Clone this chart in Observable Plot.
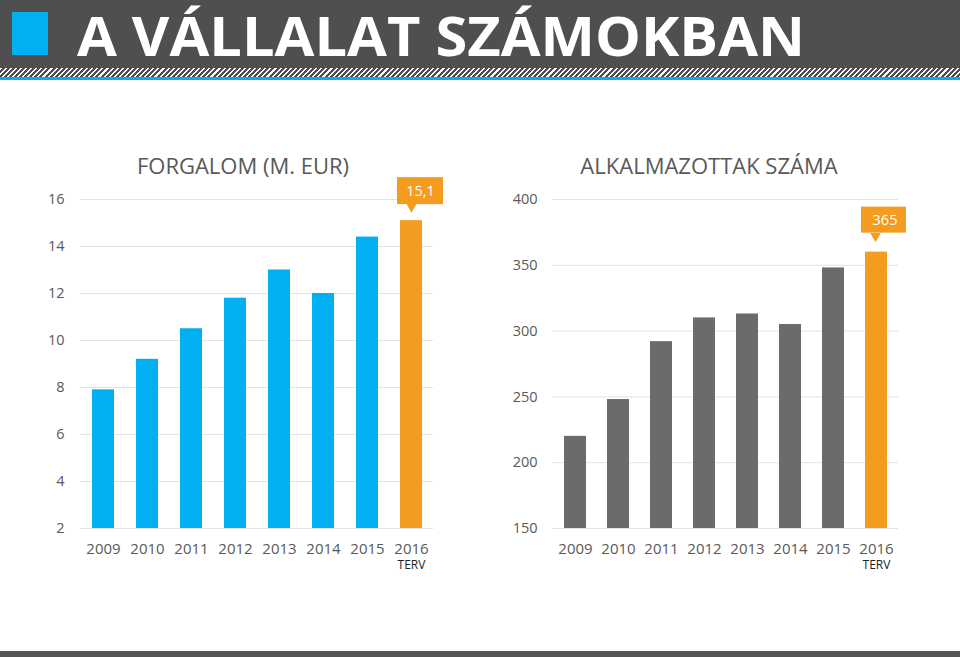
<!DOCTYPE html>
<html><head><meta charset="utf-8">
<script src="https://cdn.jsdelivr.net/npm/d3@7"></script>
<script src="https://cdn.jsdelivr.net/npm/@observablehq/plot@0.6"></script>
<style>
body{margin:0;width:960px;height:657px;position:relative;background:#fff;font-family:"Open Sans",sans-serif;overflow:hidden}
#hdr{position:absolute;left:0;top:0;width:960px;height:68px;background:#4f4f4f}
#hatch{position:absolute;left:0;top:68px;width:960px;height:9px;background:repeating-linear-gradient(135deg,#ffffff 0 1.5px,#4f4f4f 1.5px 3.6px)}
#blue{position:absolute;left:0;top:77px;width:960px;height:3px;background:#00b0f0}
#sq{position:absolute;left:12px;top:12px;width:36px;height:43px;background:#00b0f0}
#ttl{position:absolute;left:77px;top:10px;font-size:53px;line-height:52px;font-weight:700;color:#fff;white-space:nowrap;transform-origin:0 0}
#foot{position:absolute;left:0;top:651px;width:960px;height:6px;background:#555}
.ct{position:absolute;top:154px;font-size:22px;line-height:22px;color:#595959;white-space:nowrap;transform:translateX(-50%)}
.chart{position:absolute;top:140px}
</style></head>
<body>
<div id="hdr"></div><div id="hatch"></div><div id="blue"></div><div id="sq"></div>
<div id="ttl">A VÁLLALAT SZÁMOKBAN</div>
<div class="ct" id="t1" style="left:243px">FORGALOM (M. EUR)</div>
<div class="ct" id="t2" style="left:709px">ALKALMAZOTTAK SZÁMA</div>
<div class="chart" id="c1" style="left:0"></div>
<div class="chart" id="c2" style="left:480px"></div>
<div id="foot"></div>
<script>
const years = ["2009","2010","2011","2012","2013","2014","2015","2016"];
const revenue = [7.9, 9.2, 10.5, 11.8, 13.0, 12.0, 14.4, 15.1];
const employees = [220, 248, 292, 310, 313, 305, 348, 360];
const revenueTicks = [2,4,6,8,10,12,14,16];
const employeeTicks = [150,200,250,300,350,400];
const planYear = "2016";
const planLabel = "TERV";
const revenueCallout = "15,1";
const employeeCallout = "365";
const blue = "#00b0f0", gray = "#6b6b6b", orange = "#f39c1f";

function chart(o){
  const data = years.map((year,i)=>({year, value:o.values[i]}));
  const last = data.filter(d=>d.year===planYear);
  const lo = o.ticks[0], hi = o.ticks[o.ticks.length-1];
  return Plot.plot({
    width:480, height:440, marginLeft:o.ml, marginRight:o.mr, marginTop:59, marginBottom:52,
    style:{fontFamily:"Open Sans", fontSize:"14px", color:"#595959", background:"transparent", overflow:"visible"},
    x:{domain:years, paddingInner:0.5, paddingOuter:0.25, label:null},
    y:{domain:[lo, hi], label:null},
    color:{type:"identity"},
    marks:[
      Plot.gridY(o.ticks,{stroke:"#e2e2e2", strokeOpacity:1}),
      Plot.axisY(o.ticks,{tickSize:0, tickPadding:o.tp, label:null, fontSize:14.5}),
      Plot.axisX({tickSize:0, tickPadding:15, label:null, fontSize:15}),
      Plot.barY(data,{x:"year", y1:lo, y2:"value", fill:d=>d.year===planYear?orange:o.color}),
      Plot.text([planYear],{x:d=>d, frameAnchor:"bottom", lineAnchor:"middle", dy:37, text:()=>planLabel, fill:"#222", fontSize:12}),
      Plot.barY(last,{x:"year", y1:"value", y2:"value", fill:orange, insetLeft:o.bl, insetRight:o.br, insetTop:o.bt, insetBottom:o.bb}),
      Plot.dot(last,{x:"year", y:"value", symbol:"triangle", rotate:180, r:3.9, fill:orange, stroke:"none", dx:o.tdx, dy:o.tdy}),
      Plot.text(last,{x:"year", y:"value", text:()=>o.callout, fill:"#fff", fontSize:14.5, dx:o.lx, dy:o.ly})
    ]
  });
}

document.getElementById("c1").append(chart({values:revenue, ticks:revenueTicks, color:blue, callout:revenueCallout,
  ml:80, mr:47, tp:16, bl:-3, br:-21, bt:-43, bb:16, lx:9, ly:-29.5, tdx:0, tdy:-14}));
document.getElementById("c2").append(chart({values:employees, ticks:employeeTicks, color:gray, callout:employeeCallout,
  ml:72, mr:62, tp:15, bl:-4, br:-19, bt:-45, bb:19, lx:8.5, ly:-32, tdx:-1, tdy:-16}));

function fit(){
  const t = document.getElementById("ttl");
  t.style.transform = "none";
  const w = t.getBoundingClientRect().width;
  t.style.transform = `scaleX(${728/w})`;
}
fit();
if (document.fonts && document.fonts.ready) document.fonts.ready.then(fit);
</script>
</body></html>
